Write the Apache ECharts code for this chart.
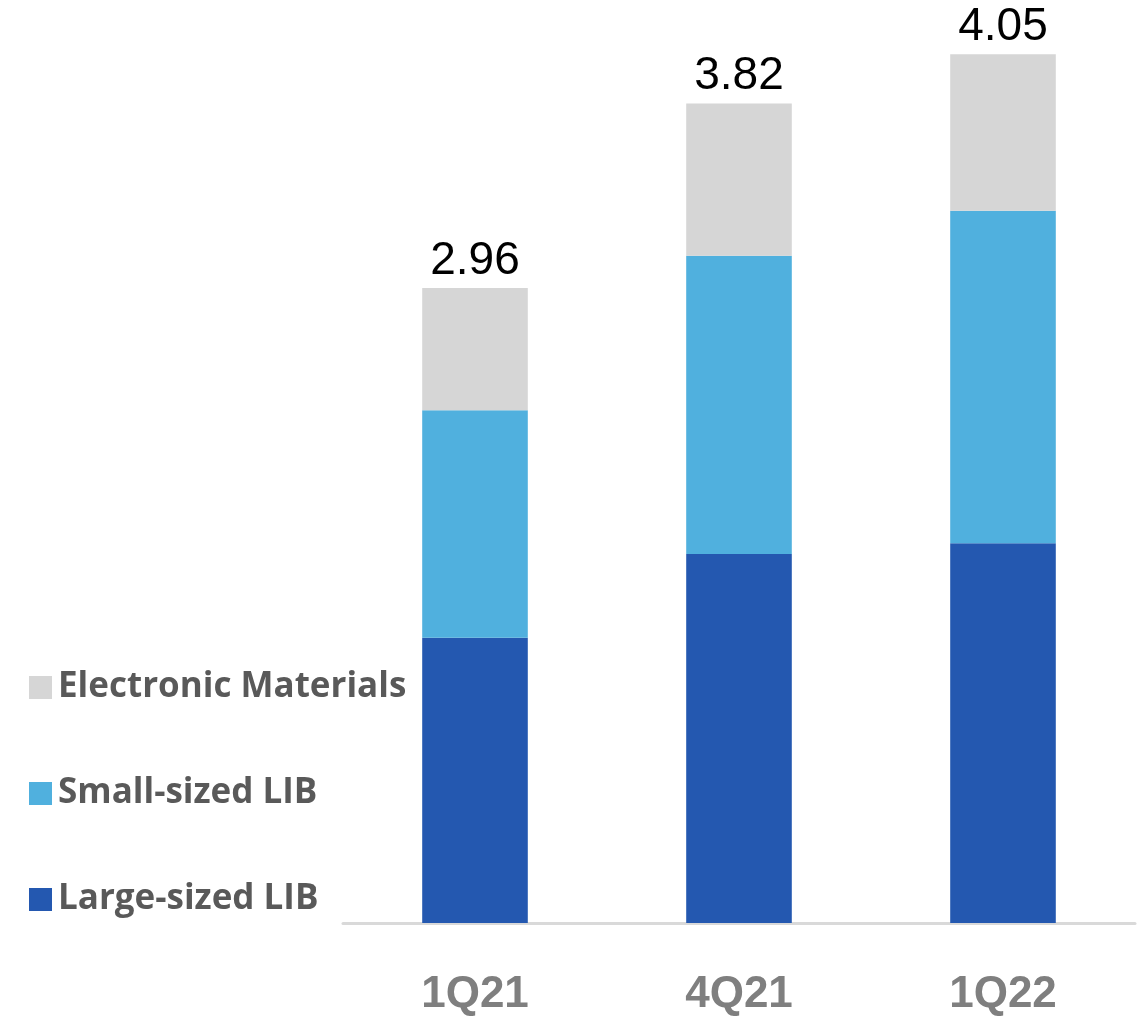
<!DOCTYPE html>
<html>
<head>
<meta charset="utf-8">
<script src="https://cdn.jsdelivr.net/npm/echarts@6/dist/echarts.min.js"></script>
<style>
html,body{margin:0;padding:0;background:#fff;}
#chart{width:1141px;height:1017px;}
</style>
</head>
<body>
<div id="chart"></div>
<script>
const categories = ['1Q21', '4Q21', '1Q22'];
const largeLIB = [1.33, 1.72, 1.77];
const smallLIB = [1.06, 1.39, 1.55];
const electronic = [0.57, 0.71, 0.73];
const totals = ['2.96', '3.82', '4.05'];

const chart = echarts.init(document.getElementById('chart'));
chart.setOption({
  backgroundColor: '#ffffff',
  animation: false,
  grid: { left: 343, right: 6, top: 22, bottom: 90 },
  legend: {
    orient: 'vertical',
    left: 24,
    top: 665,
    itemWidth: 23,
    itemHeight: 23,
    itemGap: 71,
    icon: 'rect',
    data: ['Electronic Materials', 'Small-sized LIB', 'Large-sized LIB'],
    textStyle: {
      fontFamily: 'Open Sans',
      fontWeight: 'bold',
      fontSize: 35,
      lineHeight: 34,
      color: '#595959',
      padding: [0, 0, 0, 1]
    }
  },
  xAxis: {
    type: 'category',
    data: categories,
    axisLine: { show: true, lineStyle: { color: '#D9D9D9', width: 3 } },
    axisTick: { show: false },
    axisLabel: {
      margin: 50,
      fontFamily: 'Liberation Sans',
      fontWeight: 'bold',
      fontSize: 44,
      color: '#7F7F7F'
    }
  },
  yAxis: {
    type: 'value',
    min: 0,
    max: 4.2,
    show: false,
    splitLine: { show: false }
  },
  series: [
    {
      name: 'Large-sized LIB', type: 'bar', stack: 'total', barWidth: '40%',
      itemStyle: { color: '#2458B0' },
      data: largeLIB
    },
    {
      name: 'Small-sized LIB', type: 'bar', stack: 'total', barWidth: '40%',
      itemStyle: { color: '#50B0DE' },
      data: smallLIB
    },
    {
      name: 'Electronic Materials', type: 'bar', stack: 'total', barWidth: '40%',
      itemStyle: { color: '#D6D6D6' },
      label: {
        show: true,
        position: 'top',
        distance: 4,
        fontFamily: 'Liberation Sans',
        fontSize: 46,
        color: '#000000',
        formatter: function (p) { return totals[p.dataIndex]; }
      },
      data: electronic
    }
  ]
});
</script>
</body>
</html>
